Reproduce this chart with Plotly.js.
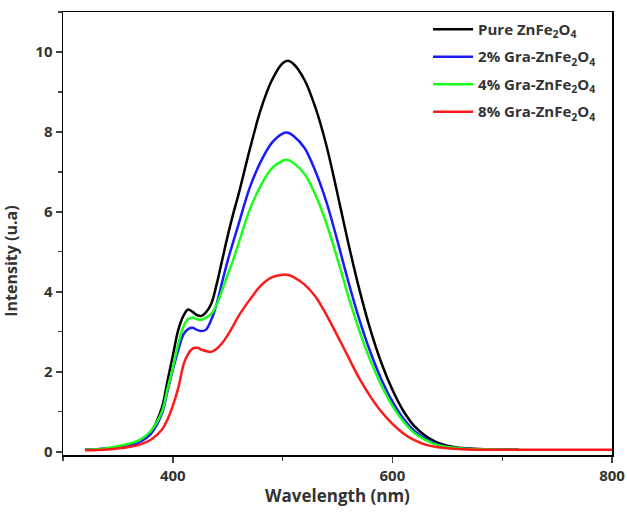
<!DOCTYPE html>
<html>
<head>
<meta charset="utf-8">
<script src="https://cdn.plot.ly/plotly-3.0.1.min.js"></script>
<style>html,body{margin:0;padding:0;background:#fff;}#chart{width:627px;height:513px;}</style>
</head>
<body>
<div id="chart"></div>
<script>
const wavelength = [320,340,360,370,380,390,395,400,405,410,414,418,422,426,430,435,440,445,450,455,460,470,480,490,500,505,510,520,530,540,550,560,570,580,590,600,610,620,630,640,650,660,670,690,715,800];
const pure = [0.05,0.08,0.18,0.28,0.5,1.1,1.75,2.4,3.05,3.42,3.56,3.5,3.42,3.4,3.48,3.7,4.2,4.8,5.4,5.95,6.45,7.55,8.55,9.28,9.72,9.78,9.7,9.3,8.6,7.65,6.45,5.2,4.05,3.05,2.22,1.55,1.02,0.64,0.4,0.24,0.15,0.1,0.08,0.06,0.05,null];
const gra2 = [0.05,0.08,0.15,0.25,0.45,0.95,1.5,2.05,2.55,2.95,3.07,3.1,3.05,3.02,3.05,3.3,3.7,4.25,4.78,5.25,5.7,6.6,7.25,7.72,7.96,7.98,7.9,7.6,7.01,6.24,5.27,4.24,3.3,2.49,1.81,1.26,0.83,0.52,0.33,0.2,0.12,0.09,0.07,0.06,0.05,null];
const gra4 = [0.05,0.09,0.2,0.3,0.52,1.0,1.55,2.1,2.7,3.15,3.32,3.36,3.32,3.3,3.35,3.45,3.68,4.05,4.43,4.8,5.22,6.05,6.65,7.08,7.28,7.3,7.22,6.95,6.42,5.71,4.82,3.88,3.02,2.28,1.66,1.15,0.76,0.47,0.3,0.18,0.12,0.09,0.07,0.06,0.05,null];
const gra8 = [0.04,0.06,0.12,0.18,0.3,0.55,0.8,1.15,1.6,2.2,2.45,2.58,2.6,2.56,2.52,2.5,2.58,2.72,2.92,3.15,3.4,3.8,4.15,4.36,4.43,4.42,4.37,4.18,3.88,3.42,2.9,2.36,1.83,1.38,1.0,0.7,0.46,0.29,0.18,0.12,0.09,0.07,0.06,0.05,0.05,0.05];
const names = ['Pure ZnFe<sub>2</sub>O<sub>4</sub>','2% Gra-ZnFe<sub>2</sub>O<sub>4</sub>','4% Gra-ZnFe<sub>2</sub>O<sub>4</sub>','8% Gra-ZnFe<sub>2</sub>O<sub>4</sub>'];
const colors = ['#000000','#1a1aff','#1aff1a','#ff1a1a'];
const series = [pure, gra2, gra4, gra8];

const traces = series.map((ys, i) => ({
  x: wavelength, y: ys, type: 'scatter', mode: 'lines', name: names[i],
  legendgroup: 'g' + i,
  line: {color: colors[i], width: 2.5, shape: 'spline', smoothing: 1}
}));

const FAM = 'Open Sans, DejaVu Sans, sans-serif';
const tickFont = {family: FAM, size: 15, color: '#333', weight: 'bold'};
const layout = {
  width: 627, height: 513,
  margin: {l: 63, r: 15, t: 12, b: 58},
  paper_bgcolor: '#fff', plot_bgcolor: '#fff',
  showlegend: true,
  legend: {x: 0.665, y: 0.998, xanchor: 'left', yanchor: 'top', bgcolor: 'rgba(0,0,0,0)',
    tracegroupgap: 5, itemwidth: 40,
    font: {family: FAM, size: 15, color: '#333', weight: 'bold'}},
  xaxis: {range: [300, 800], tick0: 400, dtick: 200, ticks: 'outside', ticklen: 6, tickwidth: 1.5,
    minor: {dtick: 100, tick0: 400, ticks: 'outside', ticklen: 4, tickwidth: 1.2},
    showline: true, mirror: true, linecolor: '#000', linewidth: 1.5, showgrid: false, zeroline: false,
    tickfont: tickFont,
    title: {text: 'Wavelength (nm)', font: {family: FAM, size: 17, color: '#333', weight: 'bold'}, standoff: 6}},
  yaxis: {range: [-0.08, 11], tick0: 0, dtick: 2, ticks: 'outside', ticklen: 6, tickwidth: 1.5,
    minor: {dtick: 1, tick0: 0, ticks: 'outside', ticklen: 4, tickwidth: 1.2},
    showline: true, mirror: true, linecolor: '#000', linewidth: 1.5, showgrid: false, zeroline: false,
    tickfont: tickFont},
  annotations: [{text: 'Intensity (u.a)', xref: 'paper', yref: 'paper', x: -0.094, y: 0.437,
    xanchor: 'center', yanchor: 'middle', textangle: -90, showarrow: false,
    font: {family: FAM, size: 16, color: '#333', weight: 'bold'}}]
};
Plotly.newPlot('chart', traces, layout, {displayModeBar: false, staticPlot: true});
</script>
</body>
</html>
